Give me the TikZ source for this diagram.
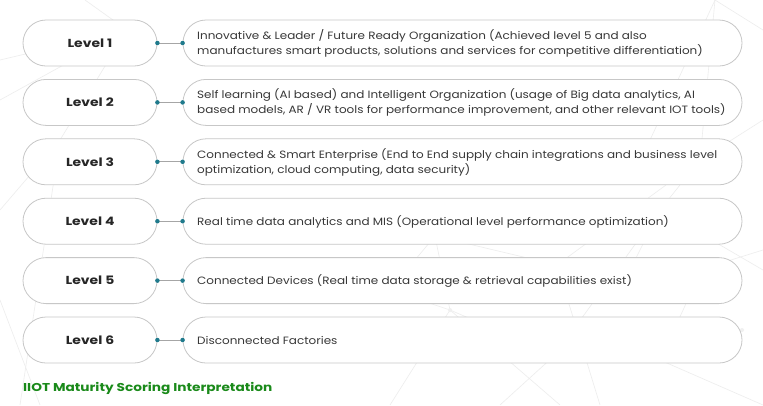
\documentclass[tikz,border=0pt]{standalone}
\usepackage{fontspec}
\setmainfont{Poppins}
\newfontfamily\descfont{Poppins}[FakeStretch=1.13]
\newfontfamily\widebold{Poppins}[FakeStretch=1.2]
\definecolor{dotteal}{RGB}{31,122,140}
\definecolor{titlegreen}{RGB}{26,138,26}
\begin{document}
\begin{tikzpicture}[x=1pt,y=-1pt,
  pill/.style={draw=black!22, line width=0.8pt, rounded corners=23pt, fill=white},
  levelbox/.style={pill, minimum width=134pt, minimum height=46pt, inner sep=0pt,
    font=\widebold\bfseries\fontsize{11.6}{13}\selectfont, text=black!85},
  descbox/.style={pill, minimum width=559pt, minimum height=46pt, inner sep=0pt},
  desc/.style={anchor=west, align=left, text=black!78, font=\descfont\fontsize{10.6}{15}\selectfont, inner sep=0pt},
  link/.style={draw=black!35, line width=0.7pt},
  dot/.style={circle, fill=dotteal, inner sep=0pt, minimum size=4.5pt},
  net/.style={draw=black!7, line width=0.6pt},
  netdot/.style={circle, fill=black!6, inner sep=0pt, minimum size=4pt}]
\useasboundingbox (0,0) rectangle (763,405);
\fill[white] (0,0) rectangle (763,405);

% faint network pattern in the background
\foreach \xa/\ya/\xb/\yb in {127/30/0/60, 127/30/0/100, 127/30/85/0, 127/30/60/140,
  60/140/0/210, 60/140/20/405, 0/300/40/405,
  715/0/650/140, 715/0/763/30, 715/0/700/160, 700/160/763/120, 700/160/660/210,
  660/210/620/290, 620/290/557/265, 557/265/435/236, 435/236/450/310,
  450/310/390/405, 450/310/555/355, 555/355/660/210, 660/210/763/270,
  702/269/763/250, 702/269/660/360, 660/360/555/355, 660/360/742/330,
  660/360/763/405, 557/265/600/405, 450/310/560/405, 620/290/702/269,
  557/265/700/160, 555/355/500/405, 435/236/390/290, 390/290/450/310}
{\draw[net] (\xa,\ya) -- (\xb,\yb);}
\foreach \px/\py in {127/30, 700/160, 660/210, 620/290, 557/265, 435/236, 450/310,
  555/355, 660/360, 702/269, 742/330}
{\node[netdot] at (\px,\py) {};}

% maturity levels
\foreach \i/\txt [count=\k] in {
  1/{Innovative \& Leader / Future Ready Organization (Achieved level 5 and also\\manufactures smart products, solutions and services for competitive differentiation)},
  2/{Self learning (AI based) and Intelligent Organization (usage of Big data analytics, AI\\based models, AR / VR tools for performance improvement, and other relevant IOT tools)},
  3/{Connected \& Smart Enterprise (End to End supply chain integrations and business level\\optimization, cloud computing, data security)},
  4/{Real time data analytics and MIS (Operational level performance optimization)},
  5/{Connected Devices (Real time data storage \& retrieval capabilities exist)},
  6/{Disconnected Factories}}
{
  \pgfmathsetmacro{\yy}{43+59.4*(\k-1)}
  \node[levelbox] (lv\i) at (90,\yy) {Level \i};
  \node[descbox] (ds\i) at (462.5,\yy) {};
  \node[desc] (tx\i) at (197,\yy+0.5) {\txt};
  \draw[link] (lv\i.east) -- (ds\i.west);
  \node[dot] at (lv\i.east) {};
  \node[dot] at (ds\i.west) {};
}

\node[anchor=west, inner sep=0pt, text=titlegreen, font=\widebold\bfseries\fontsize{11.4}{13}\selectfont] (title) at (23,388) {IIOT Maturity Scoring Interpretation};
\end{tikzpicture}
\end{document}
